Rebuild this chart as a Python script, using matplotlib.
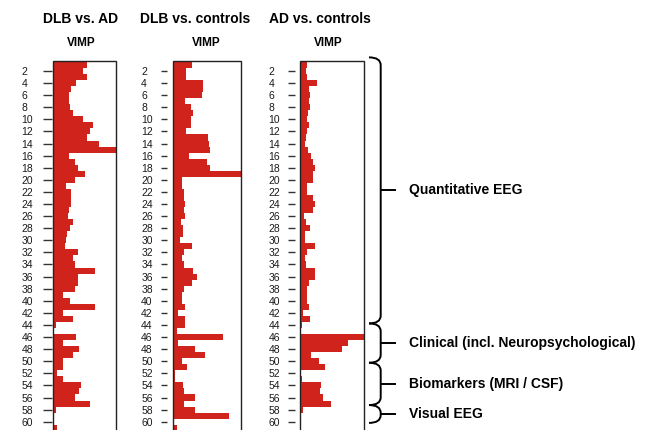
import numpy as np
import matplotlib
matplotlib.use('Agg')
import matplotlib.pyplot as plt
from matplotlib.path import Path
from matplotlib.patches import PathPatch, Rectangle
from matplotlib.transforms import blended_transform_factory

plt.rcParams['font.family'] = ['Liberation Sans', 'DejaVu Sans']

# relative variable importance (VIMP), scaled to panel max
variables = np.arange(1, 62)
dlb_vs_ad = [0.545, 0.47, 0.545, 0.365, 0.285, 0.25, 0.25, 0.27, 0.31, 0.48,
             0.64, 0.58, 0.545, 0.735, 1.0, 0.25, 0.345, 0.4, 0.51, 0.345,
             0.2, 0.285, 0.285, 0.28, 0.25, 0.245, 0.31, 0.27, 0.22, 0.2,
             0.19, 0.4, 0.32, 0.345, 0.67, 0.4, 0.4, 0.345, 0.165, 0.27,
             0.67, 0.165, 0.32, 0.05, 0.01, 0.37, 0.165, 0.42, 0.32, 0.165,
             0.165, 0.07, 0.165, 0.445, 0.42, 0.35, 0.59, 0.04, 0.015, 0.0,
             0.07]
dlb_vs_controls = [0.277, 0.183, 0.183, 0.446, 0.446, 0.42, 0.173, 0.257, 0.297, 0.257,
                   0.257, 0.183, 0.52, 0.525, 0.55, 0.233, 0.505, 0.55, 1.0, 0.134,
                   0.134, 0.163, 0.163, 0.178, 0.163, 0.178, 0.114, 0.149, 0.149, 0.1,
                   0.277, 0.163, 0.134, 0.163, 0.297, 0.351, 0.277, 0.158, 0.124, 0.134,
                   0.173, 0.074, 0.178, 0.178, 0.06, 0.743, 0.074, 0.327, 0.475, 0.129,
                   0.203, 0.03, 0.02, 0.149, 0.163, 0.327, 0.163, 0.327, 0.82, 0.0,
                   0.06]
ad_vs_controls = [0.109, 0.093, 0.109, 0.264, 0.15, 0.166, 0.14, 0.16, 0.13, 0.109,
                  0.14, 0.12, 0.098, 0.078, 0.124, 0.18, 0.2, 0.233, 0.21, 0.2,
                  0.12, 0.12, 0.21, 0.233, 0.2, 0.067, 0.098, 0.16, 0.078, 0.078,
                  0.238, 0.109, 0.088, 0.098, 0.233, 0.233, 0.14, 0.109, 0.109, 0.109,
                  0.14, 0.057, 0.16, 0.036, 0.005, 1.0, 0.75, 0.658, 0.18, 0.295,
                  0.394, 0.005, 0.036, 0.337, 0.316, 0.357, 0.49, 0.047, 0.016, 0.0,
                  0.0]
titles = ['DLB vs. AD', 'DLB vs. controls', 'AD vs. controls']
tick_values = list(range(2, 61, 2))

group_names = ['Quantitative EEG', 'Clinical (incl. Neuropsychological)',
               'Biomarkers (MRI / CSF)', 'Visual EEG']
group_edges = [-0.25, 43.75, 50.25, 57.25, 60.2]

RED = '#d0231c'
W, H = 656, 430
fig = plt.figure(figsize=(W / 100, H / 100), dpi=100)

# panel layout: left px, right px, title x, vimp x, tick length pt, spine gap pt, label pad pt
panels = [
    (53, 116, 81, 81, 6.5, 0.7, 15.4),
    (173.3, 240.7, 195, 206, 4.0, 4.5, 14.6),
    (299.7, 364, 320, 328, 5.0, 3.5, 14.0),
]
top_px = 61
ymin, ymax = 0.35, 62.0
px_per_unit = 6.047
bottom_px = top_px + (ymax - ymin) * px_per_unit

axes = []
for (l, r, tx, vx, tlen, gap, pad), vals, title in zip(panels, [dlb_vs_ad, dlb_vs_controls, ad_vs_controls], titles):
    ax = fig.add_axes([l / W, 1 - bottom_px / H, (r - l) / W, (bottom_px - top_px) / H])
    ax.barh(variables, vals, height=1.0, color=RED, edgecolor='none', align='center')
    ax.set_xlim(0, 1)
    ax.set_ylim(ymax, ymin)
    ax.set_xticks([])
    for s in ax.spines.values():
        s.set_visible(False)
    # moving the spine resets the ticks, so labels are set afterwards
    ax.spines['left'].set_position(('outward', gap))
    ax.set_yticks(tick_values)
    ax.tick_params(axis='y', length=tlen, width=1.0, color='#333333', pad=pad,
                   labelsize=7.5, labelcolor='#1a1a1a')
    ax.set_yticklabels([str(t) for t in tick_values], ha='left')
    ax.add_patch(Rectangle((0, 0), 1, 1, transform=ax.transAxes, fill=False,
                           lw=1.0, edgecolor='#222222', clip_on=False))
    fig.text(tx / W, 1 - 19 / H, title, ha='center', va='center',
             fontsize=10, fontweight='bold')
    fig.text(vx / W, 1 - 43.5 / H, 'VIMP', ha='center', va='center',
             fontsize=8.5, fontweight='bold')
    axes.append(ax)

# curly brackets at the right, x in figure fraction, y in data units
ax3 = axes[2]
trans = blended_transform_factory(fig.transFigure, ax3.transData)
xs = 380.7 / W
xh = 369 / W
xt = 395 / W
xl = 409 / W
r = 1.3
for name, y0, y1 in zip(group_names, group_edges[:-1], group_edges[1:]):
    ym = (y0 + y1) / 2
    verts = [(xh, y0), (xs, y0), (xs, y0 + r),
             (xs, y1 - r), (xs, y1), (xh, y1)]
    codes = [Path.MOVETO, Path.CURVE3, Path.CURVE3,
             Path.LINETO, Path.CURVE3, Path.CURVE3]
    fig.add_artist(PathPatch(Path(verts, codes), transform=trans, fill=False,
                             lw=1.4, edgecolor='black', clip_on=False))
    fig.add_artist(plt.Line2D([xs, xt], [ym, ym], transform=trans, lw=1.4,
                              color='black', clip_on=False))
    fig.text(xl, ym, name, transform=trans, ha='left', va='center',
             fontsize=10, fontweight='bold')

fig.savefig('out.png', dpi=100)
